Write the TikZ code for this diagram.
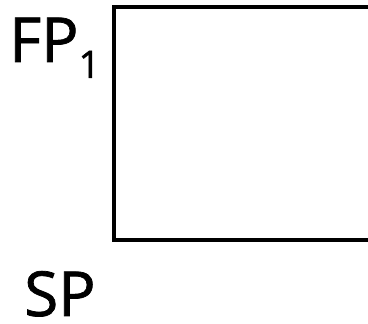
\documentclass[tikz,border=0pt]{standalone}
\usepackage{fontspec}
\setmainfont{Open Sans}[FakeBold=1.2]
\begin{document}
\begin{tikzpicture}[x=1pt, y=1pt, line join=miter, font=\fontsize{62}{62}\selectfont]
			\tikzset{lbl/.style={anchor=base west, inner sep=0pt, text depth=0pt}}
			\path[use as bounding box] (0,0) rectangle (368,324);
			\clip (0,0) rectangle (368,324);
			\coordinate (bl) at (114,84);
			\coordinate (tr) at (380,317);
			\draw[line width=3.2pt] (bl) rectangle (tr);
			\node[lbl] (fp) at (9,262) {FP\raisebox{-16pt}{\fontsize{38}{38}\selectfont 1}};
			\node[lbl] (sp) at (24,8) {SP};
		\end{tikzpicture}
\end{document}
